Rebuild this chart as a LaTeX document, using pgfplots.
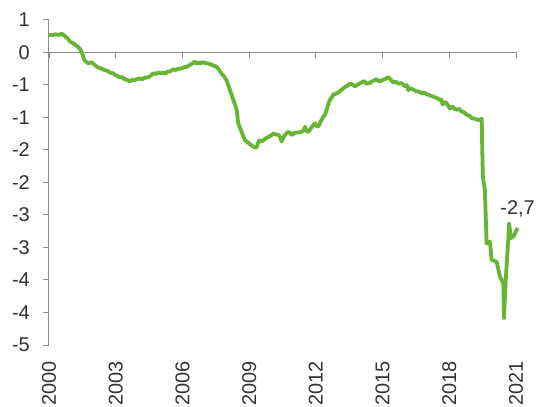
\documentclass[border=0pt]{standalone}
\usepackage{fontspec}
\setmainfont{Liberation Sans}
\usepackage{pgfplots}
\pgfplotsset{compat=1.18}

\definecolor{linegreen}{RGB}{103,181,52}
\definecolor{axisgray}{RGB}{140,140,140}
\definecolor{labelgray}{RGB}{50,50,50}

\pgfplotsset{
  frame/.style={
    scale only axis, width=467bp, height=325bp,
    xmin=2000, xmax=2021, ymin=-4.5, ymax=0.5,
  },
}

\begin{document}
\begin{tikzpicture}
% horizontal line through zero, with the year ticks hanging below it
\begin{axis}[
  frame,
  axis x line=middle, axis y line=none,
  axis line style={-, axisgray, line width=1bp},
  xtick={2000,2003,2006,2009,2012,2015,2018,2021},
  xticklabels={},
  ytick=\empty,
  tick align=center,
  major tick length=6bp,
  xtick style={axisgray, line width=1bp, yshift=-3bp},
]
\end{axis}
% series, left axis and the labels
\begin{axis}[
  name=ax,
  frame,
  clip=false,
  axis y line*=left, axis x line*=bottom,
  x axis line style={draw=none},
  y axis line style={axisgray, line width=1bp},
  xtick={2000,2003,2006,2009,2012,2015,2018,2021},
  xticklabels={2000,2003,2006,2009,2012,2015,2018,2021},
  ytick={-4.5,-4,-3.5,-3,-2.5,-2,-1.5,-1,-0.5,0,0.5},
  yticklabels={-5,-4,-4,-3,-3,-2,-2,-1,-1,0,1},
  xtick style={draw=none},
  ytick style={axisgray, line width=1bp},
  tick align=outside,
  major tick length=6bp,
  tick label style={font=\fontsize{20}{24}\selectfont, text=labelgray},
  xticklabel style={rotate=90, anchor=east, inner sep=0pt},
  xticklabel shift=10bp,
  yticklabel style={anchor=east, inner sep=0pt},
  yticklabel shift=13bp,
]
\addplot[linegreen, line width=3.8bp, line join=round, no marks] coordinates {
(2000.00,0.27) (2000.15,0.27) (2000.30,0.28) (2000.45,0.27) (2000.57,0.29)
(2000.72,0.25) (2000.85,0.21) (2000.94,0.17) (2001.10,0.14) (2001.25,0.10)
(2001.38,0.06) (2001.47,0.01) (2001.59,-0.12) (2001.77,-0.17) (2001.90,-0.15)
(2001.99,-0.17) (2002.15,-0.22) (2002.29,-0.24) (2002.50,-0.27) (2002.62,-0.28)
(2002.74,-0.31) (2002.88,-0.32) (2003.00,-0.35) (2003.19,-0.38) (2003.30,-0.38)
(2003.40,-0.41) (2003.57,-0.43) (2003.64,-0.45) (2003.72,-0.42) (2003.80,-0.43)
(2003.95,-0.41) (2004.09,-0.40) (2004.20,-0.41) (2004.30,-0.39) (2004.47,-0.38)
(2004.60,-0.35) (2004.69,-0.32) (2004.80,-0.33) (2004.90,-0.31) (2005.02,-0.32)
(2005.14,-0.31) (2005.22,-0.33) (2005.30,-0.30) (2005.44,-0.29) (2005.59,-0.26)
(2005.70,-0.27) (2005.80,-0.25) (2005.92,-0.25) (2006.04,-0.23) (2006.20,-0.22)
(2006.34,-0.19) (2006.45,-0.17) (2006.56,-0.14) (2006.63,-0.17) (2006.70,-0.15)
(2006.79,-0.17) (2006.90,-0.15) (2007.01,-0.16) (2007.15,-0.17) (2007.32,-0.19)
(2007.45,-0.21) (2007.54,-0.22) (2007.65,-0.27) (2007.77,-0.33) (2007.88,-0.37)
(2007.99,-0.43) (2008.14,-0.58) (2008.29,-0.73) (2008.44,-0.88) (2008.51,-1.09)
(2008.66,-1.22) (2008.81,-1.35) (2008.93,-1.38) (2009.04,-1.41) (2009.15,-1.44)
(2009.26,-1.46) (2009.34,-1.46) (2009.40,-1.39) (2009.46,-1.35) (2009.55,-1.37)
(2009.64,-1.35) (2009.75,-1.32) (2009.86,-1.30) (2009.97,-1.28) (2010.09,-1.25)
(2010.20,-1.26) (2010.31,-1.27) (2010.40,-1.30) (2010.46,-1.37) (2010.54,-1.31)
(2010.61,-1.27) (2010.69,-1.24) (2010.76,-1.22) (2010.84,-1.24) (2010.91,-1.27)
(2011.02,-1.24) (2011.14,-1.23) (2011.25,-1.23) (2011.36,-1.22) (2011.45,-1.20)
(2011.51,-1.14) (2011.58,-1.21) (2011.66,-1.22) (2011.77,-1.17) (2011.88,-1.12)
(2011.96,-1.09) (2012.03,-1.13) (2012.11,-1.14) (2012.22,-1.06) (2012.33,-0.99)
(2012.42,-0.95) (2012.49,-0.88) (2012.56,-0.79) (2012.63,-0.73) (2012.70,-0.70)
(2012.78,-0.65) (2012.93,-0.63) (2013.08,-0.60) (2013.20,-0.56) (2013.31,-0.53)
(2013.42,-0.51) (2013.53,-0.48) (2013.64,-0.49) (2013.76,-0.52) (2013.90,-0.49)
(2014.06,-0.46) (2014.17,-0.44) (2014.28,-0.48) (2014.40,-0.47) (2014.51,-0.45)
(2014.62,-0.43) (2014.73,-0.41) (2014.85,-0.45) (2014.96,-0.43) (2015.10,-0.41)
(2015.26,-0.38) (2015.37,-0.42) (2015.48,-0.46) (2015.60,-0.45) (2015.71,-0.48)
(2015.85,-0.47) (2016.01,-0.52) (2016.10,-0.50) (2016.16,-0.58) (2016.23,-0.55)
(2016.38,-0.57) (2016.53,-0.60) (2016.65,-0.60) (2016.76,-0.63) (2016.88,-0.62)
(2016.98,-0.64) (2017.13,-0.66) (2017.28,-0.68) (2017.43,-0.70) (2017.58,-0.73)
(2017.64,-0.72) (2017.70,-0.80) (2017.80,-0.76) (2017.88,-0.78) (2017.96,-0.82)
(2018.03,-0.86) (2018.15,-0.83) (2018.24,-0.87) (2018.33,-0.88) (2018.45,-0.87)
(2018.56,-0.91) (2018.67,-0.92) (2018.78,-0.96) (2018.90,-0.97) (2019.01,-1.01)
(2019.15,-1.02) (2019.30,-1.04) (2019.46,-1.02) (2019.48,-1.45) (2019.51,-1.91)
(2019.60,-2.12) (2019.68,-2.94) (2019.83,-2.91) (2019.90,-3.19) (2020.13,-3.22)
(2020.28,-3.45) (2020.43,-3.55) (2020.46,-4.09) (2020.53,-3.55) (2020.65,-2.88)
(2020.69,-2.63) (2020.77,-2.86) (2020.92,-2.81) (2021.07,-2.70)
};
% value of the latest observation
\addplot[only marks, mark=none, point meta=explicit symbolic,
  nodes near coords, nodes near coords align={above},
  every node near coord/.append style={inner sep=0pt, yshift=11bp,
    font=\fontsize{20}{24}\selectfont, text=labelgray}]
  coordinates {(2021.07,-2.70) [{-2,7}]};
\end{axis}
\pgfresetboundingbox
\path[use as bounding box] ([shift={(-49bp,-62bp)}]ax.south west)
  rectangle ([shift={(25bp,20bp)}]ax.north east);
\end{tikzpicture}
\end{document}
